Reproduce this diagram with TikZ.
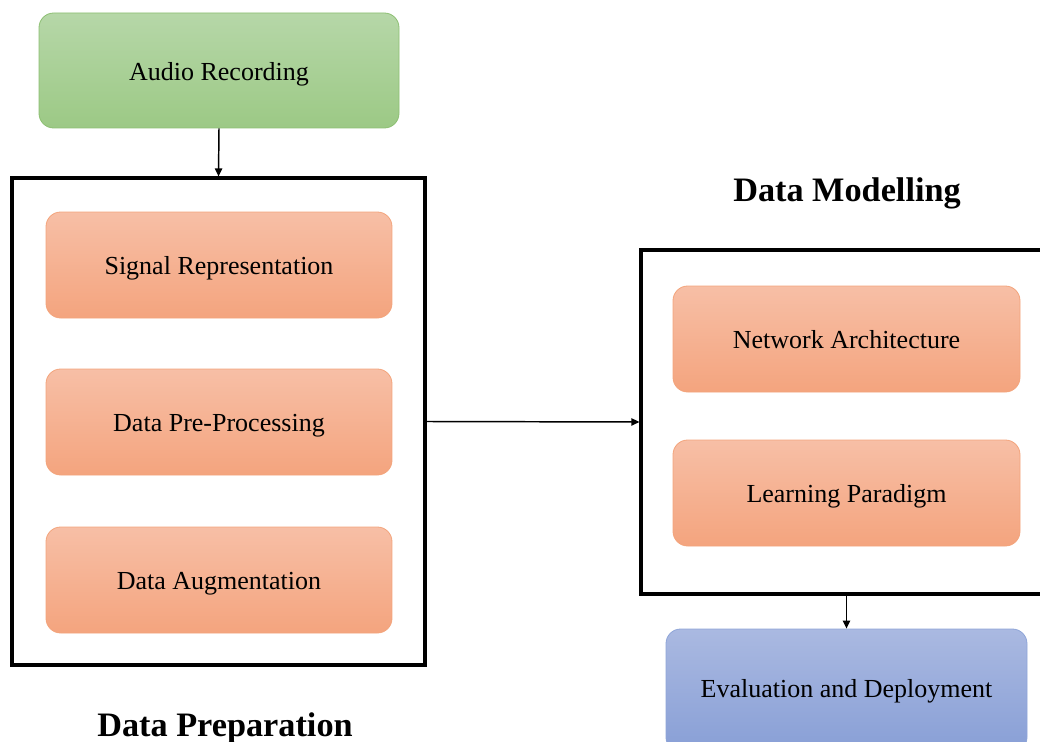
\documentclass[tikz,border=0pt]{standalone}
\usepackage{fontspec}
\setmainfont{Liberation Serif}
\usetikzlibrary{arrows.meta}
\definecolor{gtop}{HTML}{B6D7A8}
\definecolor{gbot}{HTML}{9CC985}
\definecolor{gline}{HTML}{8CBF72}
\definecolor{otop}{HTML}{F7BFA6}
\definecolor{obot}{HTML}{F4A47E}
\definecolor{oline}{HTML}{F3A47C}
\definecolor{btop}{HTML}{AAB9E1}
\definecolor{bbot}{HTML}{889FD6}
\definecolor{bline}{HTML}{8FA5D8}
\tikzset{
  rbox/.style={rounded corners=11pt, line width=0.6pt, align=center,
    font=\fontsize{19.5}{23}\selectfont, inner sep=0pt,
    text height=14.5pt, text depth=0pt},
  greenbox/.style={rbox, draw=gline, top color=gtop, bottom color=gbot,
    minimum width=270pt, minimum height=86.25pt},
  orangebox/.style={rbox, draw=oline, top color=otop, bottom color=obot,
    minimum width=259.5pt, minimum height=79.5pt},
  bluebox/.style={rbox, draw=bline, top color=btop, bottom color=bbot,
    minimum width=270.75pt, minimum height=92.25pt},
  frame/.style={draw=black, line width=2.4pt, inner sep=0pt},
  title/.style={font=\fontsize{25.7}{30}\selectfont\bfseries, inner sep=0pt},
  conn/.style={line width=1.1pt, -{Triangle[length=6pt,width=5.5pt]}}
}
\begin{document}
\begin{tikzpicture}[x=0.75pt,y=-0.75pt]
\useasboundingbox (0,0) rectangle (1040,742);
\clip (0,0) rectangle (1040,742);
\node[greenbox] (audio) at (219,70.5) {Audio Recording};
\node[frame, minimum width=309.75pt, minimum height=365.25pt] (prep) at (218.5,421.5) {};
\node[orangebox] (sig) at (219,265) {Signal Representation};
\node[orangebox] (pre) at (219,422) {Data Pre-Processing};
\node[orangebox] (aug) at (219,580) {Data Augmentation};
\node[title] (preptitle) at (225,728) {Data Preparation};
\node[frame, minimum width=303pt, minimum height=258pt] (model) at (843,422) {};
\node[title] (modeltitle) at (847,193) {Data Modelling};
\node[orangebox, minimum width=260.25pt] (net) at (846.5,339) {Network Architecture};
\node[orangebox, minimum width=260.25pt] (learn) at (846.5,493) {Learning Paradigm};
\node[bluebox] (eval) at (846.5,690.5) {};
\node[font=\fontsize{19.5}{23}\selectfont, inner sep=0pt, text height=14.5pt, text depth=0pt] (evaltext) at (846.5,688) {Evaluation and Deployment};
\draw[conn] (audio.south) -- (prep.north);
\draw[conn] (prep.east) -- (model.west);
\draw[conn] (eval.north |- model.south) -- (eval.north);
\end{tikzpicture}
\end{document}
